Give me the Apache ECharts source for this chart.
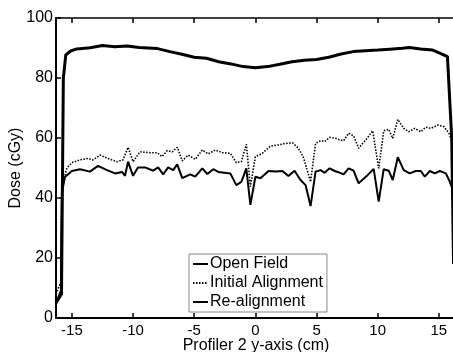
<!DOCTYPE html>
<html>
<head>
<meta charset="utf-8">
<script src="https://cdn.jsdelivr.net/npm/echarts@6/dist/echarts.min.js"></script>
<style>
html, body { margin: 0; padding: 0; background: #fff; }
#main { width: 453px; height: 352px; }
</style>
</head>
<body>
<div id="main"></div>
<script>
// tick labels
var xTicks = [-15, -10, -5, 0, 5, 10, 15];

// Open Field
var openX = [-16.3, -15.85, -15.7, -15.5, -15.1, -14.6, -13.5, -12.5, -11.5, -10.5, -9.5, -8, -7, -6, -5, -4, -3, -2, -1, 0,
	1, 2, 3, 4, 5, 6, 7, 8, 9, 10, 11, 12, 12.6, 13.5, 14.5, 15.3, 15.7, 16.05, 16.2];
var openY = [5, 8, 80, 87.7, 89, 89.7, 90.1, 90.8, 90.4, 90.7, 90.2, 89.8, 88.8, 87.9, 86.9, 86.6, 85.4, 84.7, 83.8, 83.4,
	83.8, 84.6, 85.4, 85.9, 86.2, 86.9, 88, 88.8, 89.1, 89.3, 89.6, 89.9, 90.2, 89.7, 89.3, 87.9, 87.1, 60, 18];

// Initial Alignment
var initX = [-16.3, -15.9, -15.82, -15.41, -15, -14.34, -13.69, -13.28, -12.7, -11.89, -11.31, -10.82, -10.41, -10, -9.43, -8.61,
	-8.03, -7.62, -7.21, -6.8, -6.39, -5.98, -5.49, -4.92, -4.34, -3.85, -3.28, -2.7, -2.05, -1.56, -1.15, -0.74, -0.41, 0,
	0.57, 1.23, 1.89, 2.46, 3.03, 3.52, 3.93, 4.51, 4.92, 5.33, 5.66, 6.07, 6.56, 6.97, 7.21, 7.62, 8.03, 8.44, 9.02, 9.59,
	10.08, 10.49, 10.9, 11.23, 11.64, 12.13, 12.54, 13.03, 13.52, 13.93, 14.34, 14.92, 15.41, 15.82, 16.15, 16.3];
var initY = [8, 12, 43.8, 50, 51.8, 52.7, 53.2, 52.7, 54.3, 52.9, 52.1, 52.7, 56.9, 52.1, 55.4, 55.1,
	55.1, 53.8, 55.8, 55.4, 56.9, 52.4, 54.3, 52.9, 56, 54.7, 56, 55.1, 54.9, 51.8, 52.1, 57.9, 43.8, 53.8,
	54.9, 57.3, 57.7, 58.2, 58.4, 56.6, 53.5, 45.4, 58.2, 59.1, 58.8, 60.2, 59.9, 59.3, 59.1, 61.6, 60.7, 56.6, 59.3, 62.4,
	49.9, 62.4, 62.9, 59.9, 66.2, 63.2, 62.1, 63.2, 62.1, 63.6, 63.2, 64.3, 63.8, 61.6, 58.2, 20];

// Re-alignment
var reX = [-16.3, -15.9, -15.82, -15.57, -15, -14.34, -13.52, -12.87, -12.13, -11.48, -10.9, -10.66, -10.41, -10, -9.6, -9.02,
	-8.36, -8.2, -7.95, -7.54, -7.13, -6.72, -6.39, -5.98, -5.33, -4.92, -4.34, -3.93, -3.44, -3.03, -2.05, -1.56, -1.15, -0.74,
	-0.41, 0, 0.41, 1.07, 1.64, 2.21, 2.7, 3.2, 3.69, 4.1, 4.51, 4.92, 5.33, 5.66, 6.07, 6.48, 6.8, 7.21, 7.62, 8.03, 8.44,
	9.1, 9.67, 10.08, 10.49, 10.9, 11.23, 11.64, 12.13, 12.62, 13.11, 13.52, 13.85, 14.26, 14.67, 15.08, 15.57, 15.9, 16.15, 16.3];
var reY = [5, 9, 41.7, 47, 49, 49.6, 48.8, 50.7, 49.3, 48.2, 48.7, 47.4, 52.1, 47.4, 50.2, 50.2,
	49.1, 48.8, 50.2, 47.9, 50.2, 49.3, 51.2, 46.6, 47.9, 47.1, 49.9, 48, 49.6, 48.7, 48.2, 44.3, 45.4, 49.9,
	37.7, 47.1, 46.6, 49, 48.8, 49, 47.3, 49.1, 46, 44.3, 37.3, 48.8, 49.3, 48.4, 49.9, 49, 48.6, 47.9, 49.9, 49.1, 44.9,
	47.3, 49.7, 38.8, 49.6, 49.1, 46, 53.6, 49.3, 48.2, 49, 49, 47.1, 49, 48.2, 49, 48.2, 45.4, 42.7, 18];

function pairs(xs, ys) {
	var out = [];
	for (var i = 0; i < xs.length; i++) {
		out.push([xs[i], ys[i]]);
	}
	return out;
}

var FONT = 'Liberation Sans, Arial, sans-serif';

var myChart = echarts.init(document.getElementById('main'));

var option = {
	animation : false,
	backgroundColor : '#fff',
	textStyle : { fontFamily : FONT, color : '#000' },
	grid : {
		left : 56,
		right : -3,
		top : 18,
		bottom : 34,
		outerBoundsMode : 'none',
		containLabel : false
	},
	legend : {
		data : [ 'Open Field', 'Initial Alignment', 'Re-alignment' ],
		orient : 'vertical',
		left : 189,
		top : 254,
		itemWidth : 15,
		itemHeight : 10,
		itemGap : 3,
		padding : [ 2, 4, 2, 3 ],
		backgroundColor : '#fff',
		borderColor : '#888',
		borderWidth : 1,
		borderRadius : 0,
		itemStyle : { opacity : 0 },
		textStyle : { fontFamily : FONT, fontSize : 16, color : '#000', padding : [ 0, 0, 0, -3 ] }
	},
	xAxis : [ {
		type : 'value',
		min : -16.3,
		max : 16.4,
		name : 'Profiler 2 y-axis (cm)',
		nameLocation : 'middle',
		nameGap : 20,
		nameMoveOverlap : false,
		nameTextStyle : { fontFamily : FONT, fontSize : 16, color : '#000' },
		axisLine : { onZero : false, lineStyle : { color : '#000', width : 2 } },
		axisTick : { inside : true, length : 5, customValues : xTicks, lineStyle : { color : '#000', width : 1.5 } },
		axisLabel : { customValues : xTicks, margin : 5, fontFamily : FONT, fontSize : 15, color : '#000' },
		splitLine : { show : false }
	}, {
		type : 'value',
		position : 'top',
		min : -16.3,
		max : 16.4,
		axisLine : { onZero : false, lineStyle : { color : '#000', width : 1.5 } },
		axisTick : { inside : true, length : 5, customValues : xTicks, lineStyle : { color : '#000', width : 1.5 } },
		axisLabel : { show : false },
		splitLine : { show : false }
	} ],
	yAxis : [ {
		type : 'value',
		min : 0,
		max : 100,
		interval : 20,
		name : 'Dose (cGy)',
		nameLocation : 'middle',
		nameGap : 32,
		nameMoveOverlap : false,
		nameTextStyle : { fontFamily : FONT, fontSize : 16, color : '#000' },
		axisLine : { show : true, onZero : false, lineStyle : { color : '#000', width : 2 } },
		axisTick : { show : true, inside : true, length : 5, lineStyle : { color : '#000', width : 1.5 } },
		axisLabel : { margin : 3, fontFamily : FONT, fontSize : 16, color : '#000' },
		splitLine : { show : false }
	} ],
	series : [ {
		name : 'Open Field',
		type : 'line',
		data : pairs(openX, openY),
		symbol : 'none',
		lineStyle : { color : '#000', width : 3 },
		itemStyle : { color : '#000' },
		z : 3
	}, {
		name : 'Initial Alignment',
		type : 'line',
		data : pairs(initX, initY),
		symbol : 'none',
		lineStyle : { color : '#000', width : 1.6, type : [ 1.5, 1.5 ] },
		itemStyle : { color : '#000' },
		z : 2
	}, {
		name : 'Re-alignment',
		type : 'line',
		data : pairs(reX, reY),
		symbol : 'none',
		lineStyle : { color : '#000', width : 2 },
		itemStyle : { color : '#000' },
		z : 2
	} ]
};

myChart.setOption(option, true);
</script>
</body>
</html>
